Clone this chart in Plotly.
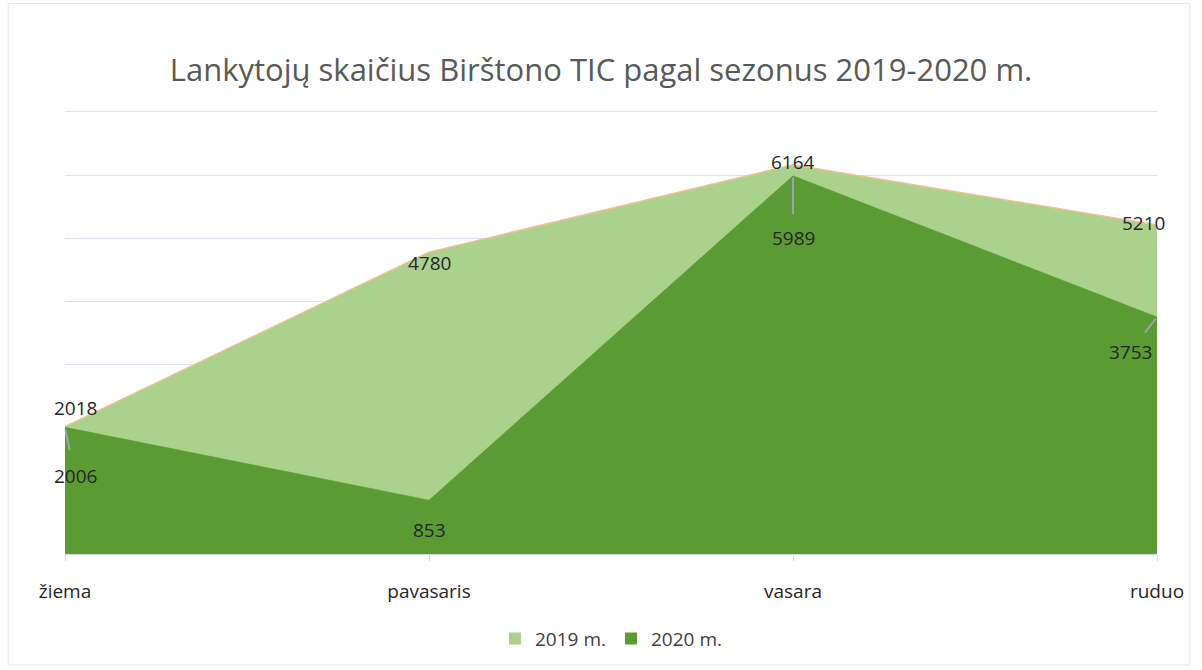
import plotly.graph_objects as go

seasons = ["žiema", "pavasaris", "vasara", "ruduo"]
v2019 = [2018, 4780, 6164, 5210]
v2020 = [2006, 853, 5989, 3753]
names = ["2019 m.", "2020 m."]

c19 = "#aad28c"
c20 = "#5b9b34"

fig = go.Figure()
fig.add_trace(go.Scatter(x=seasons, y=v2019, name=names[0], mode="lines",
                         fill="tozeroy", fillcolor=c19, showlegend=False,
                         line=dict(color="#f0bf98", width=1.5)))
fig.add_trace(go.Scatter(x=seasons, y=v2020, name=names[1], mode="lines",
                         fill="tozeroy", fillcolor=c20, showlegend=False,
                         line=dict(color=c20, width=0.5)))
# legend entries (square markers)
for nm, col in zip(names, [c19, c20]):
    fig.add_trace(go.Scatter(x=[None], y=[None], name=nm, mode="markers",
                             marker=dict(symbol="square", size=12, color=col)))

# 2019 labels
off19 = [(10, -19), (0, 11), (0, -3), (-14, -2)]
for s, v, (ax, ay) in zip(seasons, v2019, off19):
    fig.add_annotation(x=s, y=v, text=str(v), showarrow=True, arrowcolor="rgba(0,0,0,0)",
                       ax=ax, ay=ay, font=dict(size=19, color="#262626"))
# 2020 labels with leader lines
off20 = [(10, 49, 12, "#9aa3ad"), (0, 30, 0, "rgba(0,0,0,0)"),
         (0, 62, 9, "#9aa3ad"), (-27, 35, 6, "#9aa3ad")]
for s, v, (ax, ay, ss, col) in zip(seasons, v2020, off20):
    fig.add_annotation(x=s, y=v, text=str(v), showarrow=True, arrowhead=0,
                       arrowcolor=col, arrowwidth=2, standoff=2, startstandoff=ss,
                       ax=ax, ay=ay, font=dict(size=19, color="#262626"))

fig.update_layout(
    width=1202, height=670,
    paper_bgcolor="white", plot_bgcolor="white",
    font=dict(family="Open Sans, Liberation Sans, sans-serif", color="#404040"),
    title=dict(text="Lankytojų skaičius Birštono TIC pagal sezonus 2019-2020 m.",
               x=0.5, xanchor="center", y=0.8955, yanchor="middle",
               font=dict(size=31, color="#595959")),
    margin=dict(l=65, r=45, t=110, b=116),
    showlegend=True,
    legend=dict(orientation="h", x=0.5, xanchor="center", y=-0.148, yanchor="top",
                font=dict(size=19, color="#404040"), itemwidth=30),
    xaxis=dict(range=[0, 3], showgrid=False, showline=True, linecolor="#d9d9d9",
               ticks="outside", ticklen=6, tickcolor="#d9d9d9", ticklabelstandoff=14,
               tickfont=dict(size=19, color="#262626")),
    yaxis=dict(range=[0, 7030], tickvals=[1000, 2000, 3000, 4000, 5000, 6000, 7000],
               showgrid=True, gridcolor="#dde3ee",
               showticklabels=False, zeroline=False),
)
fig.add_shape(type="rect", xref="paper", yref="paper",
              x0=-0.052, x1=1.03, y0=-0.25, y1=1.24,
              line=dict(color="#e8e8ec", width=1))
fig.write_html("out.html", config={"displayModeBar": False},
               post_script="document.body.style.margin='0px';")
